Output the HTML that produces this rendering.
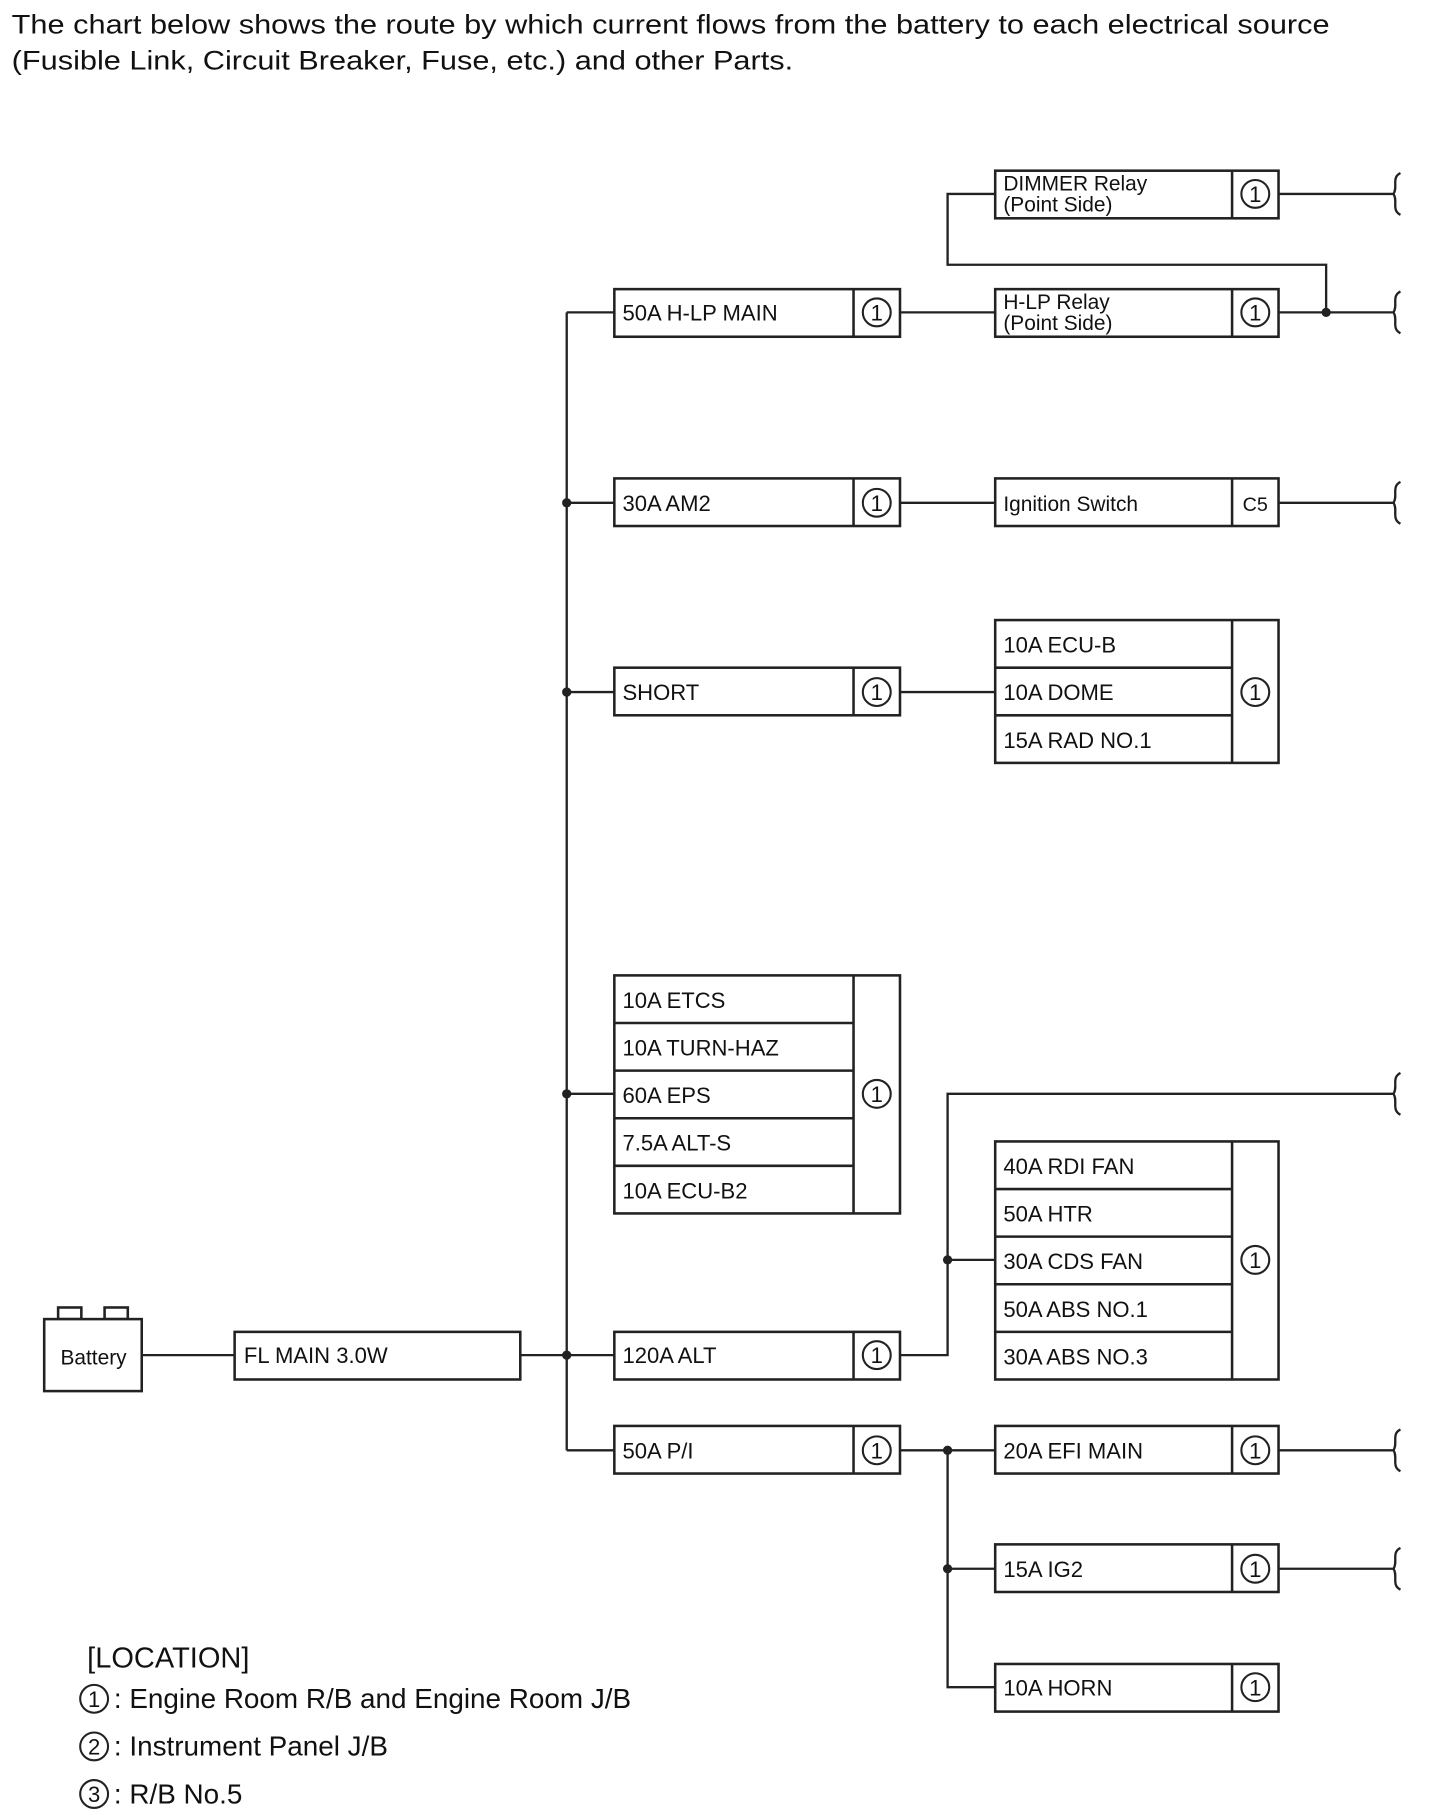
<!DOCTYPE html>
<html><head><meta charset="utf-8"><style>
html,body{margin:0;padding:0;background:#fff;}
svg{display:block;}
text{font-family:"Liberation Sans",sans-serif;fill:#111;}
</style></head><body>
<svg width="1440" height="1814" viewBox="0 0 1240 1562.2" xmlns="http://www.w3.org/2000/svg">
<defs>
<g id="sq"><path d="M6,-18 C-2,-14 4,-6 0,0 C4,6 -2,14 6,18" fill="none" stroke="#222" stroke-width="2"/></g>
</defs>
<text x="10" y="29" font-size="23" textLength="1135" lengthAdjust="spacingAndGlyphs">The chart below shows the route by which current flows from the battery to each electrical source</text>
<text x="10" y="60" font-size="23" textLength="673" lengthAdjust="spacingAndGlyphs">(Fusible Link, Circuit Breaker, Fuse, etc.) and other Parts.</text>

<g stroke="#222" stroke-width="2" fill="none">
<line x1="488" y1="269" x2="488" y2="1249"/>
<line x1="488" y1="269" x2="529" y2="269"/>
<line x1="488" y1="433" x2="529" y2="433"/>
<line x1="488" y1="596" x2="529" y2="596"/>
<line x1="488" y1="942" x2="529" y2="942"/>
<line x1="448" y1="1167" x2="529" y2="1167"/>
<line x1="488" y1="1249" x2="529" y2="1249"/>
<line x1="122" y1="1167" x2="202" y2="1167"/>
<line x1="775" y1="269" x2="857" y2="269"/>
<polyline points="857,167 816,167 816,228 1142,228 1142,269"/>
<line x1="1101" y1="167" x2="1200" y2="167"/>
<line x1="1101" y1="269" x2="1200" y2="269"/>
<line x1="775" y1="433" x2="857" y2="433"/>
<line x1="1101" y1="433" x2="1200" y2="433"/>
<line x1="775" y1="596" x2="857" y2="596"/>
<polyline points="775,1167 816,1167 816,942 1200,942"/>
<line x1="816" y1="1085" x2="857" y2="1085"/>
<line x1="775" y1="1249" x2="857" y2="1249"/>
<polyline points="816,1249 816,1453 857,1453"/>
<line x1="816" y1="1351" x2="857" y2="1351"/>
<line x1="1101" y1="1249" x2="1200" y2="1249"/>
<line x1="1101" y1="1351" x2="1200" y2="1351"/>
</g>
<g fill="#222">
<circle cx="488" cy="433" r="4"/><circle cx="488" cy="596" r="4"/><circle cx="488" cy="942" r="4"/><circle cx="488" cy="1167" r="4"/>
<circle cx="1142" cy="269" r="4"/><circle cx="816" cy="1085" r="4"/><circle cx="816" cy="1249" r="4"/><circle cx="816" cy="1351" r="4"/>
</g>
<use href="#sq" x="1200" y="167"/><use href="#sq" x="1200" y="269"/><use href="#sq" x="1200" y="433"/>
<use href="#sq" x="1200" y="942"/><use href="#sq" x="1200" y="1249"/><use href="#sq" x="1200" y="1351"/>

<g stroke="#222" stroke-width="2.2" fill="#fff">
<rect x="50" y="1126" width="20" height="10"/><rect x="90" y="1126" width="20" height="10"/>
<rect x="38" y="1136" width="84" height="62"/>
<rect x="202" y="1147" width="246" height="41"/>
<rect x="529" y="249" width="246" height="41"/><line x1="735" y1="249" x2="735" y2="290"/>
<rect x="529" y="412" width="246" height="41"/><line x1="735" y1="412" x2="735" y2="453"/>
<rect x="529" y="575" width="246" height="41"/><line x1="735" y1="575" x2="735" y2="616"/>
<rect x="529" y="840" width="246" height="205"/><line x1="735" y1="840" x2="735" y2="1045"/>
<line x1="529" y1="881" x2="735" y2="881"/><line x1="529" y1="922" x2="735" y2="922"/><line x1="529" y1="963" x2="735" y2="963"/><line x1="529" y1="1004" x2="735" y2="1004"/>
<rect x="529" y="1147" width="246" height="41"/><line x1="735" y1="1147" x2="735" y2="1188"/>
<rect x="529" y="1228" width="246" height="41"/><line x1="735" y1="1228" x2="735" y2="1269"/>
<rect x="857" y="147" width="244" height="41"/><line x1="1061" y1="147" x2="1061" y2="188"/>
<rect x="857" y="249" width="244" height="41"/><line x1="1061" y1="249" x2="1061" y2="290"/>
<rect x="857" y="412" width="244" height="41"/><line x1="1061" y1="412" x2="1061" y2="453"/>
<rect x="857" y="534" width="244" height="123"/><line x1="1061" y1="534" x2="1061" y2="657"/>
<line x1="857" y1="575" x2="1061" y2="575"/><line x1="857" y1="616" x2="1061" y2="616"/>
<rect x="857" y="983" width="244" height="205"/><line x1="1061" y1="983" x2="1061" y2="1188"/>
<line x1="857" y1="1024" x2="1061" y2="1024"/><line x1="857" y1="1065" x2="1061" y2="1065"/><line x1="857" y1="1106" x2="1061" y2="1106"/><line x1="857" y1="1147" x2="1061" y2="1147"/>
<rect x="857" y="1228" width="244" height="41"/><line x1="1061" y1="1228" x2="1061" y2="1269"/>
<rect x="857" y="1330" width="244" height="41"/><line x1="1061" y1="1330" x2="1061" y2="1371"/>
<rect x="857" y="1433" width="244" height="41"/><line x1="1061" y1="1433" x2="1061" y2="1474"/>
</g>
<g stroke="#222" stroke-width="1.8" fill="none">
<circle cx="755" cy="269" r="12"/><circle cx="755" cy="433" r="12"/><circle cx="755" cy="596" r="12"/><circle cx="755" cy="942" r="12"/>
<circle cx="755" cy="1167" r="12"/><circle cx="755" cy="1249" r="12"/>
<circle cx="1081" cy="167" r="12"/><circle cx="1081" cy="269" r="12"/><circle cx="1081" cy="596" r="12"/><circle cx="1081" cy="1085" r="12"/>
<circle cx="1081" cy="1249" r="12"/><circle cx="1081" cy="1351" r="12"/><circle cx="1081" cy="1453" r="12"/>
<circle cx="81" cy="1463" r="12"/><circle cx="81" cy="1504" r="12"/><circle cx="81" cy="1545" r="12"/>
</g>
<g font-size="19" text-anchor="middle">
<text x="755" y="276">1</text><text x="755" y="440">1</text><text x="755" y="603">1</text><text x="755" y="949">1</text>
<text x="755" y="1174">1</text><text x="755" y="1256">1</text>
<text x="1081" y="174">1</text><text x="1081" y="276">1</text><text x="1081" y="603">1</text><text x="1081" y="1092">1</text>
<text x="1081" y="1256">1</text><text x="1081" y="1358">1</text><text x="1081" y="1460">1</text>
<text x="81" y="1470">1</text><text x="81" y="1511">2</text><text x="81" y="1552">3</text>
<text x="1081" y="440" font-size="17">C5</text>
</g>
<g font-size="19">
<text x="52" y="1175" font-size="18">Battery</text>
<text x="210" y="1174">FL MAIN 3.0W</text>
<text x="536" y="276">50A H-LP MAIN</text>
<text x="536" y="440">30A AM2</text>
<text x="536" y="603">SHORT</text>
<text x="536" y="868">10A ETCS</text>
<text x="536" y="909">10A TURN-HAZ</text>
<text x="536" y="950">60A EPS</text>
<text x="536" y="991">7.5A ALT-S</text>
<text x="536" y="1032">10A ECU-B2</text>
<text x="536" y="1174">120A ALT</text>
<text x="536" y="1256">50A P/I</text>
<text x="864" y="164" font-size="18">DIMMER Relay</text><text x="864" y="182" font-size="18">(Point Side)</text>
<text x="864" y="266" font-size="18">H-LP Relay</text><text x="864" y="284" font-size="18">(Point Side)</text>
<text x="864" y="440" font-size="18">Ignition Switch</text>
<text x="864" y="562">10A ECU-B</text>
<text x="864" y="603">10A DOME</text>
<text x="864" y="644">15A RAD NO.1</text>
<text x="864" y="1011">40A RDI FAN</text>
<text x="864" y="1052">50A HTR</text>
<text x="864" y="1093">30A CDS FAN</text>
<text x="864" y="1134">50A ABS NO.1</text>
<text x="864" y="1175">30A ABS NO.3</text>
<text x="864" y="1256">20A EFI MAIN</text>
<text x="864" y="1358">15A IG2</text>
<text x="864" y="1460">10A HORN</text>
</g>
<g font-size="24">
<text x="75" y="1436" font-size="25">[LOCATION]</text>
<text x="98" y="1471">: Engine Room R/B and Engine Room J/B</text>
<text x="98" y="1512">: Instrument Panel J/B</text>
<text x="98" y="1553">: R/B No.5</text>
</g>
</svg>
</body></html>
